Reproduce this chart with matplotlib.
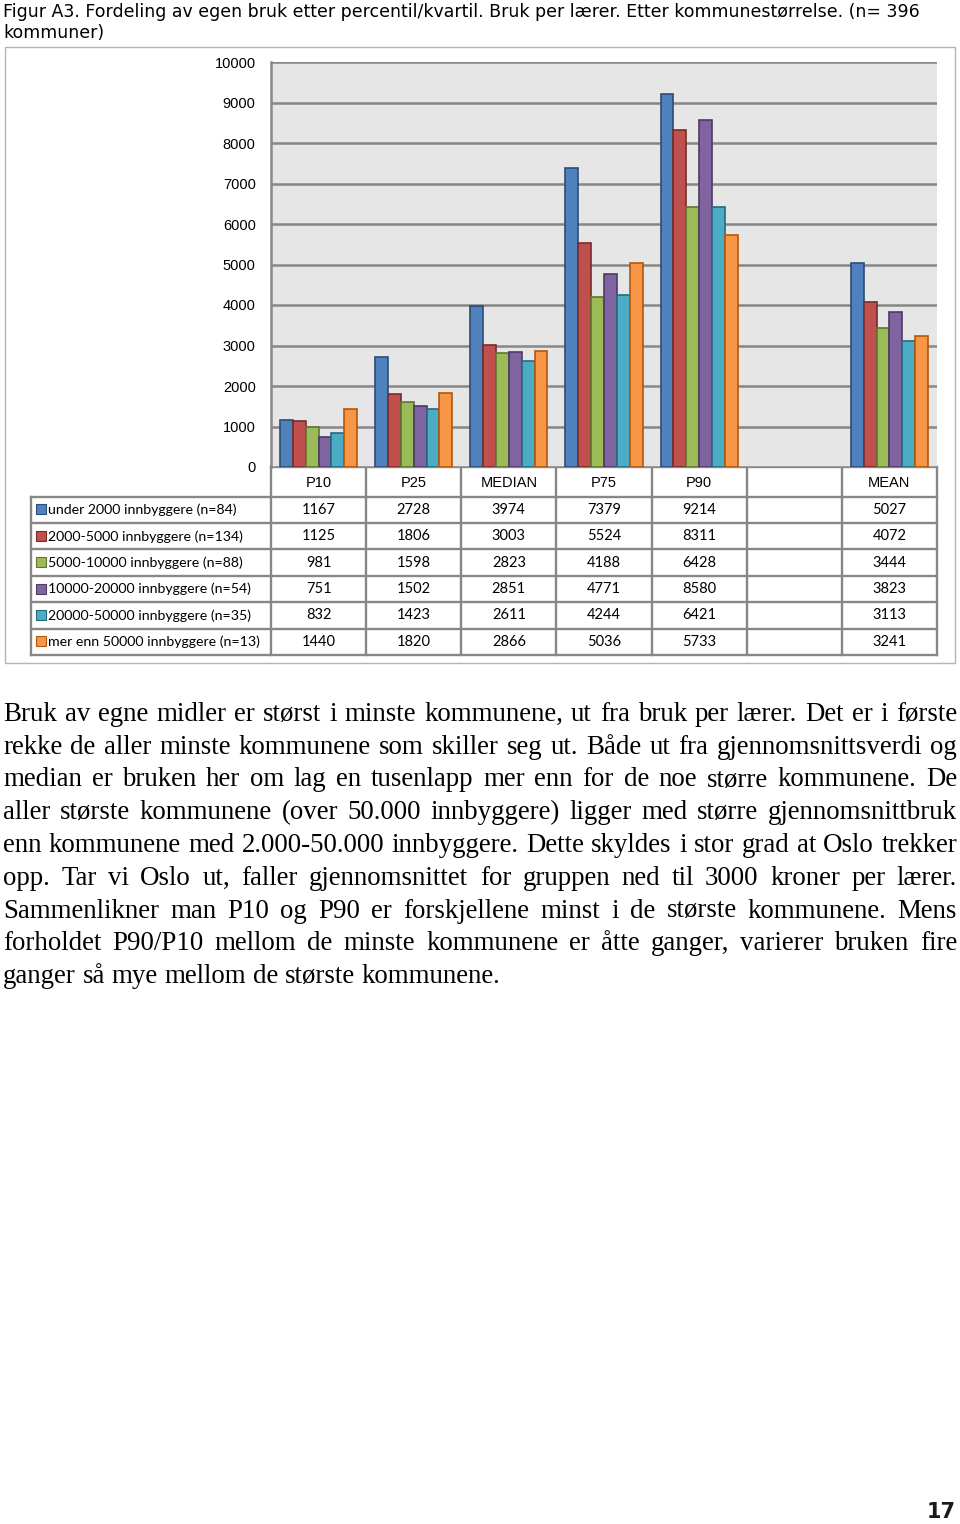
import numpy as np
import matplotlib
matplotlib.use('Agg')
import matplotlib.pyplot as plt
from matplotlib.patches import Rectangle

# chart data
categories = ['P10', 'P25', 'MEDIAN', 'P75', 'P90', '', 'MEAN']
groups = ['under 2000 innbyggere (n=84)',
          '2000-5000 innbyggere (n=134)',
          '5000-10000 innbyggere (n=88)',
          '10000-20000 innbyggere (n=54)',
          '20000-50000 innbyggere (n=35)',
          'mer enn 50000 innbyggere (n=13)']
under_2000 = [1167, 2728, 3974, 7379, 9214, np.nan, 5027]
from_2000 = [1125, 1806, 3003, 5524, 8311, np.nan, 4072]
from_5000 = [981, 1598, 2823, 4188, 6428, np.nan, 3444]
from_10000 = [751, 1502, 2851, 4771, 8580, np.nan, 3823]
from_20000 = [832, 1423, 2611, 4244, 6421, np.nan, 3113]
over_50000 = [1440, 1820, 2866, 5036, 5733, np.nan, 3241]
series = [under_2000, from_2000, from_5000, from_10000, from_20000, over_50000]
yticks = [0, 1000, 2000, 3000, 4000, 5000, 6000, 7000, 8000, 9000, 10000]

colors = ['#4F81BD', '#C0504D', '#9BBB59', '#8064A2', '#4BACC6', '#F79646']
edges = ['#2C4D75', '#772C2A', '#5F7530', '#4D3B62', '#276A7C', '#B65708']

title_lines = ['Figur A3. Fordeling av egen bruk etter percentil/kvartil. Bruk per lærer. Etter kommunestørrelse. (n= 396',
               'kommuner)']
para_lines = [
    'Bruk av egne midler er størst i minste kommunene, ut fra bruk per lærer. Det er i første',
    'rekke de aller minste kommunene som skiller seg ut. Både ut fra gjennomsnittsverdi og',
    'median er bruken her om lag en tusenlapp mer enn for de noe større kommunene. De',
    'aller største kommunene (over 50.000 innbyggere) ligger med større gjennomsnittbruk',
    'enn kommunene med 2.000-50.000 innbyggere. Dette skyldes i stor grad at Oslo trekker',
    'opp. Tar vi Oslo ut, faller gjennomsnittet for gruppen ned til 3000 kroner per lærer.',
    'Sammenlikner man P10 og P90 er forskjellene minst i de største kommunene. Mens',
    'forholdet P90/P10 mellom de minste kommunene er åtte ganger, varierer bruken fire',
    'ganger så mye mellom de største kommunene.',
]

W, H = 960, 1524
fig = plt.figure(figsize=(W / 100, H / 100), dpi=100)
fig.patch.set_facecolor('white')

# overlay axes in pixel units for frame, table and text
ov = fig.add_axes([0, 0, 1, 1])
ov.set_xlim(0, W)
ov.set_ylim(H, 0)
ov.axis('off')
renderer = fig.canvas.get_renderer()

# plot area in pixels
pl, pr, pt, pb = 271, 937, 62, 467
ax = fig.add_axes([pl / W, 1 - pb / H, (pr - pl) / W, (pb - pt) / H])
ax.set_facecolor('#e6e6e6')
ax.set_xlim(-0.5, len(categories) - 0.5)
ax.set_ylim(0, 10000)
ax.set_yticks(yticks)
ax.yaxis.grid(True, color='#878787', lw=1.8)
ax.set_axisbelow(True)
ax.set_xticks([])
ax.tick_params(axis='y', length=0, pad=11, labelsize=10.5)
for lab in ax.get_yticklabels():
    lab.set_family('Liberation Sans')
for s in ['top', 'right', 'bottom']:
    ax.spines[s].set_visible(False)
ax.spines['left'].set_color('#878787')
ax.spines['left'].set_linewidth(1.8)

x = np.arange(len(categories))
bw = 0.135
for i, vals in enumerate(series):
    ax.bar(x + (i - 2.5) * bw, vals, bw, color=colors[i], edgecolor=edges[i],
           linewidth=1.2, zorder=3)

# outer chart frame
ov.add_patch(Rectangle((5, 47), 950, 616, fill=False, edgecolor='#b4b4b4', lw=1.0))

# data table under the chart
catw = (pr - pl) / len(categories)
col_x = [pl + k * catw for k in range(len(categories) + 1)]
tab_left = 31
head_bot = 496.7
row_h = (655 - head_bot) / len(groups)
row_y = [head_bot + k * row_h for k in range(len(groups) + 1)]
lc = '#878787'
ov.plot([pl, pr], [pb, pb], color=lc, lw=1.7)
for yy in row_y:
    ov.plot([tab_left, pr], [yy, yy], color=lc, lw=1.7)
for k, xx in enumerate(col_x):
    ov.plot([xx, xx], [pb, row_y[-1]], color=lc, lw=1.7)
ov.plot([tab_left, tab_left], [head_bot, row_y[-1]], color=lc, lw=1.7)

for j, c in enumerate(categories):
    ov.text((col_x[j] + col_x[j + 1]) / 2, (pb + head_bot) / 2 + 1, c, ha='center', va='center',
            fontsize=10.5, family='Liberation Sans', color='black')
for i, g in enumerate(groups):
    yc = (row_y[i] + row_y[i + 1]) / 2
    ov.add_patch(Rectangle((36, yc - 5.5), 10, 10, facecolor=colors[i], edgecolor=edges[i], lw=0.8))
    ov.text(48, yc, g, ha='left', va='center', fontsize=10.2, family='Lato', color='black')
    for j, v in enumerate(series[i]):
        if not np.isnan(v):
            ov.text((col_x[j] + col_x[j + 1]) / 2, yc, '%d' % v, ha='center', va='center',
                    fontsize=10.5, family='Lato', color='black')


def fit_size(text, family, target):
    t = ov.text(0, 0, text, fontsize=10, family=family)
    w = t.get_window_extent(renderer).width
    t.remove()
    return 10 * target / w


def justify(text, y, x0, x1, size, family, last=False):
    words = text.split()
    objs = [ov.text(0, y, w, fontsize=size, family=family, va='baseline', color='black') for w in words]
    widths = [o.get_window_extent(renderer).width for o in objs]
    if last or len(words) == 1:
        a = ov.text(0, 0, 'a a', fontsize=size, family=family)
        b = ov.text(0, 0, 'aa', fontsize=size, family=family)
        gap = a.get_window_extent(renderer).width - b.get_window_extent(renderer).width
        a.remove()
        b.remove()
    else:
        gap = (x1 - x0 - sum(widths)) / (len(words) - 1)
    pos = x0
    for o, w in zip(objs, widths):
        o.set_x(pos)
        pos += w + gap


# title
tsize = fit_size(title_lines[0], 'DejaVu Sans', 909)
ov.text(3, 17, title_lines[0], fontsize=tsize, family='DejaVu Sans', va='baseline', color='black')
ov.text(3, 38, title_lines[1], fontsize=tsize, family='DejaVu Sans', va='baseline', color='black')

# paragraph
psize = fit_size(para_lines[-1], 'Liberation Serif', 498)
for k, line in enumerate(para_lines):
    justify(line, 721 + k * 32.75, 3, 957, psize, 'Liberation Serif', last=(k == len(para_lines) - 1))

# page number
ov.text(956, 1512, '17', ha='right', va='center', fontsize=15, family='DejaVu Sans',
        weight='bold', color='#1a1a1a')

fig.savefig('out.png', dpi=100)
